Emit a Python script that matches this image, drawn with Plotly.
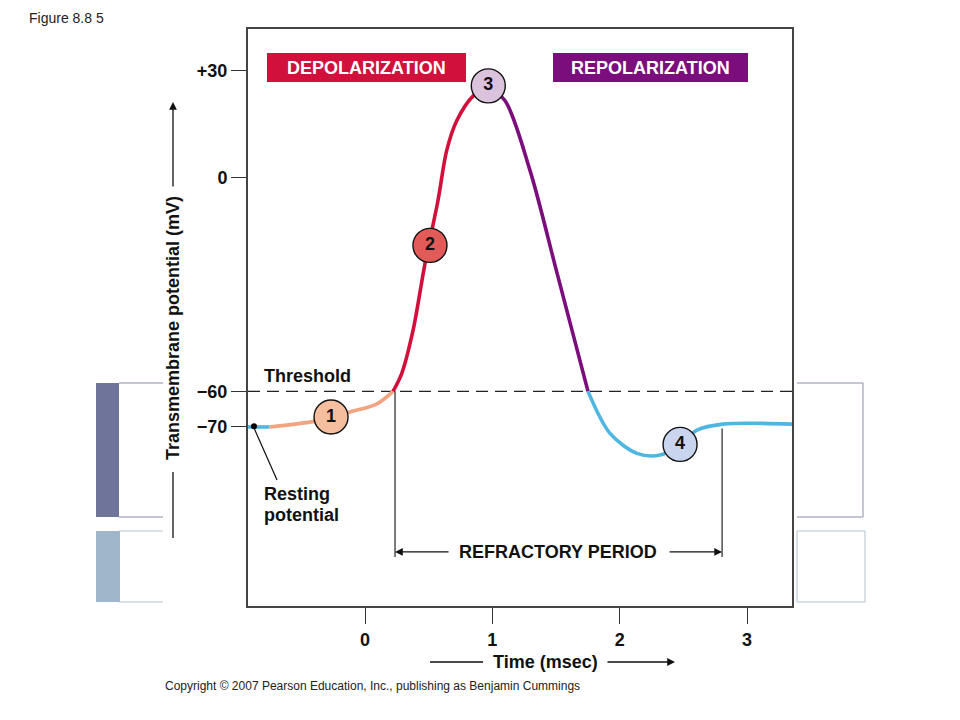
import plotly.graph_objects as go

# ---------------- data ----------------
rest_x = [-0.919, -0.75]
rest_y = [-70.0, -70.0]

slow_depol_x = [-0.75, -0.41, -0.267, -0.118, 0.094, 0.22]
slow_depol_y = [-70.0, -68.5, -67.4, -65.8, -63.5, -60.0]

fast_depol_x = [0.22, 0.288, 0.377, 0.471, 0.573, 0.641, 0.72, 0.85, 0.97]
fast_depol_y = [-60.0, -55.0, -42.9, -24.1, -6.4, 7.6, 16.0, 23.0, 25.5]

repol_x = [0.97, 1.10, 1.296, 1.508, 1.751]
repol_y = [25.5, 21.6, 2.0, -26.8, -60.0]

hyper_x = [1.751, 1.924, 2.136, 2.317, 2.474, 2.607, 2.81, 3.353]
hyper_y = [-60.0, -71.8, -77.4, -77.9, -74.9, -70.9, -69.2, -69.2]

step_x = [-0.267, 0.51, 0.968, 2.474]
step_y = [-67.2, -19.0, 25.8, -74.9]
step_labels = ["1", "2", "3", "4"]

resting_dot_x = [-0.872]
resting_dot_y = [-69.8]

threshold_mv = -60
refractory_start = 0.2356
refractory_end = 2.804

y_tick_vals = [30, 0, -60, -70]
y_tick_text = ["+30", "0", "\u221260", "\u221270"]
x_tick_vals = [0, 1, 2, 3]
x_tick_text = ["0", "1", "2", "3"]

# ---------------- styling ----------------
FONT = "Liberation Sans, Arial, Helvetica, sans-serif"
BLUE = "#4fb6e2"
ORANGE = "#f1a47f"
RED = "#d1103c"
PURPLE = "#7c0d7c"
CIRCLE_FILLS = ["#f5be9f", "#e25b59", "#dcc3dd", "#c9d5ee"]

OFF = 8                      # page body margin
W, H = 960 - OFF, 720 - OFF
L, R, T, B = 248, 792, 29, 606   # plot box in screen pixels


def PX(x):
    return (x - L) / (R - L)


def PY(y):
    return (B - y) / (B - T)


fig = go.Figure()

line_w = 3.6
for xs, ys, col in [
    (rest_x, rest_y, BLUE),
    (slow_depol_x, slow_depol_y, ORANGE),
    (fast_depol_x, fast_depol_y, RED),
    (repol_x, repol_y, PURPLE),
    (hyper_x, hyper_y, BLUE),
]:
    fig.add_trace(go.Scatter(x=xs, y=ys, mode="lines",
                             line=dict(color=col, width=line_w, shape="spline", smoothing=0.9),
                             hoverinfo="skip", showlegend=False))

# resting pointer line
fig.add_shape(type="line", xref="x", yref="y", x0=-0.878, y0=-69.8, x1=-0.691, y1=-84.9,
              line=dict(color="#111", width=1.2))
fig.add_trace(go.Scatter(x=resting_dot_x, y=resting_dot_y, mode="markers",
                         marker=dict(color="#000", size=6), hoverinfo="skip", showlegend=False))

# threshold dashed line
fig.add_shape(type="line", xref="paper", yref="y", x0=0, x1=1, y0=threshold_mv, y1=threshold_mv,
              line=dict(color="#222", width=1.3, dash="12px,7px"), layer="below")

# refractory verticals
fig.add_shape(type="line", xref="x", yref="y", x0=refractory_start, x1=refractory_start,
              y0=threshold_mv, y1=-106.5, line=dict(color="#222", width=1.2))
fig.add_shape(type="line", xref="x", yref="y", x0=refractory_end, x1=refractory_end,
              y0=-70.4, y1=-106.5, line=dict(color="#222", width=1.2))

# circles with numbers
fig.add_trace(go.Scatter(x=step_x, y=step_y, mode="markers+text", text=["<b>%s</b>" % s for s in step_labels],
                         textposition="middle center",
                         textfont=dict(family=FONT, size=18, color="#111"),
                         marker=dict(size=34, color=CIRCLE_FILLS, line=dict(color="#111", width=1.4)),
                         hoverinfo="skip", showlegend=False))

ann = []


def text_ann(x, y, text, size=18, color="#111", xanchor="center", yanchor="middle",
             xref="paper", yref="paper", **kw):
    d = dict(x=x, y=y, xref=xref, yref=yref, text=text, showarrow=False,
             xanchor=xanchor, yanchor=yanchor, font=dict(family=FONT, size=size, color=color))
    d.update(kw)
    ann.append(d)


# refractory arrows + label
arrow_y = -105.1
ann.append(dict(x=refractory_start, y=arrow_y, ax=0.668, ay=arrow_y, xref="x", yref="y",
                axref="x", ayref="y", text="", showarrow=True, arrowhead=2, arrowsize=1.2,
                arrowwidth=1.3, arrowcolor="#111"))
ann.append(dict(x=refractory_end, y=arrow_y, ax=2.38, ay=arrow_y, xref="x", yref="y",
                axref="x", ayref="y", text="", showarrow=True, arrowhead=2, arrowsize=1.2,
                arrowwidth=1.3, arrowcolor="#111"))
text_ann(1.516, arrow_y, "<b>REFRACTORY PERIOD</b>", xref="x", yref="y")

# threshold & resting labels
text_ann(-0.809, -55.8, "<b>Threshold</b>", xanchor="left", xref="x", yref="y")
text_ann(-0.809, -88.9, "<b>Resting</b>", xanchor="left", xref="x", yref="y")
text_ann(-0.809, -94.8, "<b>potential</b>", xanchor="left", xref="x", yref="y")

# phase labels (boxes drawn as shapes)
fig.add_shape(type="rect", xref="paper", yref="paper", x0=PX(267), x1=PX(466), y0=PY(82), y1=PY(53),
              fillcolor=RED, line=dict(width=0))
fig.add_shape(type="rect", xref="paper", yref="paper", x0=PX(553), x1=PX(748), y0=PY(82), y1=PY(53),
              fillcolor=PURPLE, line=dict(width=0))
text_ann(PX(366.5), PY(68), "<b>DEPOLARIZATION</b>", color="white")
text_ann(PX(650.5), PY(68), "<b>REPOLARIZATION</b>", color="white")

# y-axis title with arrow
text_ann(PX(173), PY(328), "<b>Transmembrane potential (mV)</b>", textangle=-90)
ann.append(dict(x=PX(173), y=PY(102), xref="paper", yref="paper", ax=0, ay=86, text="",
                showarrow=True, arrowhead=2, arrowsize=1.2, arrowwidth=1.3, arrowcolor="#111"))
fig.add_shape(type="line", xref="paper", yref="paper", x0=PX(173), x1=PX(173), y0=PY(472), y1=PY(538),
              line=dict(color="#111", width=1.3))

# x-axis title with arrow
text_ann(PX(545), PY(662), "<b>Time (msec)</b>")
fig.add_shape(type="line", xref="paper", yref="paper", x0=PX(430), x1=PX(483), y0=PY(662), y1=PY(662),
              line=dict(color="#111", width=1.3))
ann.append(dict(x=PX(675), y=PY(662), xref="paper", yref="paper", ax=-69, ay=0, text="",
                showarrow=True, arrowhead=2, arrowsize=1.2, arrowwidth=1.3, arrowcolor="#111"))

# figure caption & copyright
text_ann(PX(27), PY(OFF), "Figure 8.8 5", size=14, color="#222", xanchor="left", yanchor="top")
text_ann(PX(163), PY(686),
         "Copyright \u00a9 2007 Pearson Education, Inc., publishing as Benjamin Cummings",
         size=12, color="#222", xanchor="left")

# decorative side boxes
fig.add_shape(type="rect", xref="paper", yref="paper", x0=PX(96), x1=PX(119), y0=PY(517), y1=PY(383),
              fillcolor="#6f759a", line=dict(width=0))
fig.add_shape(type="rect", xref="paper", yref="paper", x0=PX(96), x1=PX(120), y0=PY(602), y1=PY(531),
              fillcolor="#9fb6cb", line=dict(width=0))
for yy, col in [(383, "#8a90a8"), (517, "#8a90a8"), (531, "#b3c3d0"), (602, "#b3c3d0")]:
    fig.add_shape(type="line", xref="paper", yref="paper", x0=PX(119), x1=PX(163), y0=PY(yy), y1=PY(yy),
                  line=dict(color=col, width=1))
fig.add_shape(type="path", xref="paper", yref="paper",
              path="M %f %f L %f %f L %f %f L %f %f" % (PX(797), PY(383), PX(863), PY(383),
                                                        PX(863), PY(517), PX(797), PY(517)),
              line=dict(color="#8a90a8", width=1))
fig.add_shape(type="rect", xref="paper", yref="paper", x0=PX(797), x1=PX(865), y0=PY(602), y1=PY(531),
              line=dict(color="#b3c3d0", width=1))

fig.update_layout(
    width=W, height=H,
    margin=dict(l=L - OFF, r=W - (R - OFF), t=T - OFF, b=H - (B - OFF), pad=0),
    paper_bgcolor="white", plot_bgcolor="white",
    showlegend=False,
    annotations=ann,
    xaxis=dict(range=[-0.919, 3.353], showgrid=False, zeroline=False, showline=True, mirror=True,
               linecolor="#444", linewidth=2, ticks="outside", ticklen=16, tickwidth=1.3,
               tickcolor="#333", tickvals=x_tick_vals, ticktext=["<b>%s</b>" % t for t in x_tick_text],
               tickfont=dict(family=FONT, size=18, color="#111"), fixedrange=True),
    yaxis=dict(range=[-120.28, 41.77], showgrid=False, zeroline=False, showline=True, mirror=True,
               linecolor="#444", linewidth=2, ticks="outside", ticklen=15, tickwidth=1.3,
               tickcolor="#333", tickvals=y_tick_vals, ticktext=["<b>%s</b>" % t for t in y_tick_text],
               tickfont=dict(family=FONT, size=18, color="#111"), fixedrange=True),
)

fig.write_html("out.html")
